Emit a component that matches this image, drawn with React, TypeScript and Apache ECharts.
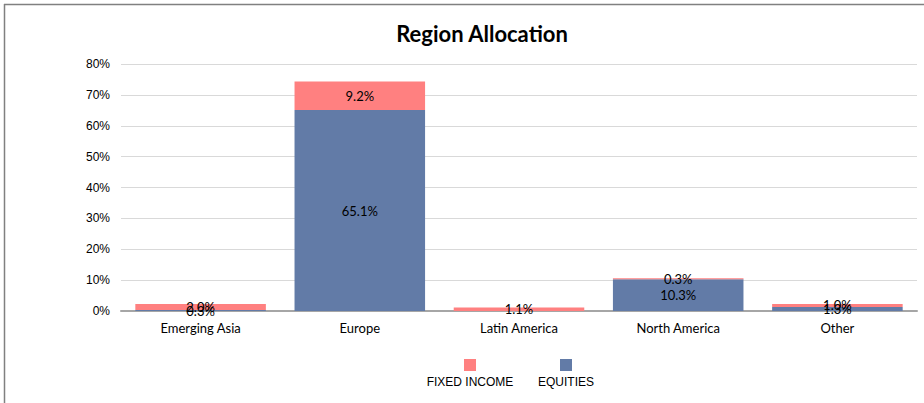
import React, { useEffect, useRef } from "react";
import * as echarts from "echarts";

const categories = ["Emerging Asia", "Europe", "Latin America", "North America", "Other"];
const seriesNames = ["FIXED INCOME", "EQUITIES"];
const equities = [0.3, 65.1, 0, 10.3, 1.3];
const fixedIncome = [2.0, 9.2, 1.1, 0.3, 1.0];
const colors = ["#FF8080", "#627BA7"];
const yTicks = [0, 10, 20, 30, 40, 50, 60, 70, 80];

export default function App() {
  const ref = useRef<HTMLDivElement>(null);
  useEffect(() => {
    const chart = echarts.init(ref.current!, null, { renderer: "svg" });
    const labelStyle = {
      show: true,
      position: "inside" as const,
      color: "#000",
      fontFamily: "Lato",
      fontSize: 13,
      formatter: (p: any) => (p.value > 0 ? p.value.toFixed(1) + "%" : ""),
    };
    chart.setOption({
      animation: false,
      backgroundColor: "#fff",
      title: {
        text: "Region Allocation",
        left: 477,
        top: 17,
        textAlign: "center",
        textStyle: { fontFamily: "Lato", fontWeight: "bold", fontSize: 22, color: "#000" },
      },
      grid: { left: 121, right: 7, top: 64, bottom: 92 },
      xAxis: {
        type: "category",
        data: categories,
        axisTick: { show: false },
        axisLine: { lineStyle: { color: "#A6A6A6", width: 2 } },
        axisLabel: { color: "#000", fontFamily: "Lato", fontSize: 13, margin: 10 },
      },
      yAxis: {
        type: "value",
        min: yTicks[0],
        max: yTicks[yTicks.length - 1],
        interval: 10,
        axisLine: { show: false },
        axisTick: { show: false },
        splitLine: { lineStyle: { color: "#D9D9D9", width: 1 } },
        axisLabel: {
          color: "#000",
          fontFamily: "Liberation Sans",
          fontSize: 12,
          margin: 11,
          formatter: (v: number) => v + "%",
        },
      },
      series: [
        {
          name: seriesNames[1],
          type: "bar",
          stack: "total",
          data: equities,
          barCategoryGap: "18%",
          itemStyle: { color: colors[1] },
          label: labelStyle,
        },
        {
          name: seriesNames[0],
          type: "bar",
          stack: "total",
          data: fixedIncome,
          barCategoryGap: "18%",
          itemStyle: { color: colors[0] },
          label: labelStyle,
        },
      ],
      graphic: [
        { type: "line", shape: { x1: 4, y1: 4.5, x2: 924, y2: 4.5 }, style: { stroke: "#808080", lineWidth: 1.5 } },
        { type: "line", shape: { x1: 4.5, y1: 4, x2: 4.5, y2: 403 }, style: { stroke: "#808080", lineWidth: 1.5 } },
        ...seriesNames.flatMap((name, i) => {
          const cx = [470, 566][i];
          return [
            { type: "rect", shape: { x: cx - 6, y: 359, width: 12, height: 12 }, style: { fill: colors[i] } },
            {
              type: "text",
              x: cx,
              y: 382,
              style: {
                text: name,
                fill: "#000",
                font: "12px 'Liberation Sans'",
                textAlign: "center",
                textVerticalAlign: "middle",
              },
            },
          ];
        }),
      ],
    });
    return () => chart.dispose();
  }, []);
  return (
    <div
      ref={ref}
      style={{ position: "absolute", left: 0, top: 0, width: 924, height: 403 }}
    />
  );
}
